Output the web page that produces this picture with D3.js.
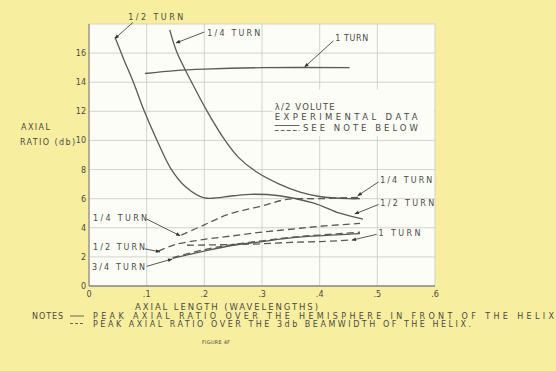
<!DOCTYPE html>
<html>
<head>
<meta charset="utf-8">
<script src="https://cdn.jsdelivr.net/npm/d3@7"></script>
<style>
  body { margin: 0; background: #f8ee9f; }
  text { font-family: "DejaVu Sans", sans-serif; fill: #4a4a44; }
</style>
</head>
<body>
<div id="wrapper"></div>
<script>
// axis ticks
const xTicks = [0, 0.1, 0.2, 0.3, 0.4, 0.5, 0.6];
const xTickLabels = ["0", ".1", ".2", ".3", ".4", ".5", ".6"];
const yTicks = [0, 2, 4, 6, 8, 10, 12, 14, 16];
const yGrid = [0, 2, 4, 6, 8, 10, 12, 14, 16, 18];

// solid = peak axial ratio over hemisphere, dashed = over 3db beamwidth
const halfTurnSolid = [[0.045, 17.1], [0.06, 15.6], [0.077, 14], [0.096, 12], [0.118, 10], [0.143, 8], [0.168, 6.8], [0.2, 6.05], [0.25, 6.2], [0.28, 6.3], [0.33, 6.2], [0.39, 5.7], [0.435, 5.0], [0.475, 4.6]];
const quarterTurnSolid = [[0.14, 17.6], [0.153, 16], [0.178, 14], [0.205, 12], [0.236, 10], [0.26, 8.8], [0.29, 7.85], [0.33, 7.0], [0.366, 6.45], [0.4, 6.15], [0.45, 6.0], [0.47, 6.0]];
const oneTurnSolid = [[0.097, 14.6], [0.15, 14.8], [0.2, 14.9], [0.3, 15.0], [0.452, 15.0]];
const threeQuarterSolid = [[0.145, 1.9], [0.2, 2.4], [0.25, 2.8], [0.3, 3.05], [0.35, 3.3], [0.4, 3.45], [0.47, 3.6]];

const quarterTurnDashed = [[0.16, 3.5], [0.2, 4.2], [0.24, 4.9], [0.3, 5.5], [0.343, 5.95], [0.4, 6.0], [0.47, 6.1]];
const halfTurnDashed = [[0.12, 2.4], [0.15, 2.85], [0.2, 3.2], [0.25, 3.45], [0.3, 3.7], [0.35, 3.9], [0.4, 4.1], [0.47, 4.3]];
const threeQuarterDashed = [[0.145, 1.95], [0.2, 2.5], [0.25, 2.85], [0.3, 3.1], [0.35, 3.35], [0.4, 3.5], [0.47, 3.7]];
const oneTurnDashed = [[0.17, 2.8], [0.25, 2.85], [0.3, 2.9], [0.35, 3.0], [0.4, 3.05], [0.45, 3.15]];

// curve labels: text position and arrow tip, in data units
const curveLabels = [
  {text: "1/2 TURN", tx: 0.068, ty: 18.45, from: [0.076, 18.1], tip: [0.045, 17.0], w: 55},
  {text: "1/4 TURN", tx: 0.205, ty: 17.4, from: [0.2, 17.45], tip: [0.151, 16.7], w: 53},
  {text: "1 TURN", tx: 0.427, ty: 17.05, from: [0.424, 16.85], tip: [0.374, 15.05], w: 33},
  {text: "1/4 TURN", tx: 0.505, ty: 7.3, from: [0.502, 7.15], tip: [0.466, 6.2], w: 52},
  {text: "1/2 TURN", tx: 0.505, ty: 5.7, from: [0.502, 5.6], tip: [0.461, 4.95], w: 54},
  {text: "1 TURN", tx: 0.502, ty: 3.65, from: [0.499, 3.55], tip: [0.456, 3.15], w: 42},
  {text: "1/4 TURN", tx: 0.007, ty: 4.7, from: [0.1, 4.6], tip: [0.158, 3.45], w: 54},
  {text: "1/2 TURN", tx: 0.007, ty: 2.65, from: [0.097, 2.55], tip: [0.123, 2.35], w: 52},
  {text: "3/4 TURN", tx: 0.005, ty: 1.3, from: [0.1, 1.35], tip: [0.144, 1.85], w: 53},
];

const width = 556, height = 371;
const margin = {top: 24, right: 121, bottom: 85, left: 89};

const svg = d3.select("#wrapper").append("svg")
  .attr("width", width)
  .attr("height", height);

svg.append("defs").append("marker")
  .attr("id", "arrow")
  .attr("viewBox", "0 0 10 10")
  .attr("refX", 9).attr("refY", 5)
  .attr("markerWidth", 6).attr("markerHeight", 5)
  .attr("orient", "auto")
  .append("path")
  .attr("d", "M0,1 L10,5 L0,9 z")
  .attr("fill", "#333");

const xScale = d3.scaleLinear().domain([0, 0.6]).range([margin.left, width - margin.right]);
const yScale = d3.scaleLinear().domain([0, 18]).range([height - margin.bottom, margin.top]);

// white graph paper
svg.append("rect")
  .attr("x", xScale(0)).attr("y", yScale(18))
  .attr("width", xScale(0.6) - xScale(0))
  .attr("height", yScale(0) - yScale(18))
  .attr("fill", "#fdfdf8");

const grid = svg.append("g").attr("stroke", "#c9c9c0").attr("stroke-width", 0.8);
grid.selectAll(".v").data(xTicks).join("line")
  .attr("x1", d => xScale(d)).attr("x2", d => xScale(d))
  .attr("y1", yScale(0)).attr("y2", yScale(18));
grid.selectAll(".h").data(yGrid).join("line")
  .attr("x1", xScale(0)).attr("x2", xScale(0.6))
  .attr("y1", d => yScale(d)).attr("y2", d => yScale(d));

// axis lines
svg.append("line")
  .attr("x1", xScale(0)).attr("x2", xScale(0))
  .attr("y1", yScale(0)).attr("y2", yScale(18))
  .attr("stroke", "#8a8a80").attr("stroke-width", 1.2);
svg.append("line")
  .attr("x1", xScale(0)).attr("x2", xScale(0.6))
  .attr("y1", yScale(0)).attr("y2", yScale(0))
  .attr("stroke", "#8a8a80").attr("stroke-width", 1.4);

// tick labels
svg.append("g").selectAll("text").data(yTicks).join("text")
  .attr("x", xScale(0) - 3)
  .attr("y", d => yScale(d) + 3)
  .attr("text-anchor", "end")
  .attr("font-size", 8)
  .text(d => d);

svg.append("g").selectAll("text").data(xTicks).join("text")
  .attr("x", d => xScale(d))
  .attr("y", yScale(0) + 11)
  .attr("text-anchor", "middle")
  .attr("font-size", 8)
  .text((d, i) => xTickLabels[i]);

function label(x, y, str, w, size) {
  svg.append("text")
    .attr("x", x).attr("y", y)
    .attr("font-size", size || 8.5)
    .attr("textLength", w)
    .attr("lengthAdjust", "spacing")
    .text(str);
}

label(21, 130, "AXIAL", 29, 8);
label(20, 145, "RATIO (db)", 55, 8);
label(135, 310, "AXIAL LENGTH (WAVELENGTHS)", 183, 8.5);

// legend box inside the plot
svg.append("rect")
  .attr("x", xScale(0.318)).attr("y", yScale(13.5))
  .attr("width", xScale(0.6) - xScale(0.318) - 1)
  .attr("height", yScale(10.3) - yScale(13.5))
  .attr("fill", "#fdfdf8");
label(xScale(0.322), 110, "\u03BB/2 VOLUTE", 60, 8.5);
label(xScale(0.322), 120, "EXPERIMENTAL DATA", 143, 8.5);
label(xScale(0.371), 131, "SEE NOTE BELOW", 115, 8.5);
svg.append("line").attr("x1", xScale(0.322)).attr("x2", xScale(0.365))
  .attr("y1", 125.5).attr("y2", 125.5).attr("stroke", "#555").attr("stroke-width", 0.9);
svg.append("line").attr("x1", xScale(0.322)).attr("x2", xScale(0.365))
  .attr("y1", 130.5).attr("y2", 130.5).attr("stroke", "#555").attr("stroke-width", 0.9)
  .attr("stroke-dasharray", "4,2");

const lineGenerator = d3.line()
  .x(d => xScale(d[0]))
  .y(d => yScale(d[1]))
  .curve(d3.curveCatmullRom);

const solidSeries = [halfTurnSolid, quarterTurnSolid, oneTurnSolid, threeQuarterSolid];
const dashedSeries = [quarterTurnDashed, halfTurnDashed, threeQuarterDashed, oneTurnDashed];

svg.append("g").selectAll("path").data(solidSeries).join("path")
  .attr("d", lineGenerator)
  .attr("fill", "none")
  .attr("stroke", "#5a5a55")
  .attr("stroke-width", 1.3);

svg.append("g").selectAll("path").data(dashedSeries).join("path")
  .attr("d", lineGenerator)
  .attr("fill", "none")
  .attr("stroke", "#5a5a55")
  .attr("stroke-width", 1.3)
  .attr("stroke-dasharray", "7,4");

// curve labels with leader arrows
const ann = svg.append("g");
ann.selectAll("line").data(curveLabels).join("line")
  .attr("x1", d => xScale(d.from[0])).attr("y1", d => yScale(d.from[1]))
  .attr("x2", d => xScale(d.tip[0])).attr("y2", d => yScale(d.tip[1]))
  .attr("stroke", "#444").attr("stroke-width", 0.9)
  .attr("marker-end", "url(#arrow)");
ann.selectAll("text").data(curveLabels).join("text")
  .attr("x", d => xScale(d.tx))
  .attr("y", d => yScale(d.ty) + 3)
  .attr("font-size", 8)
  .attr("textLength", d => d.w)
  .attr("lengthAdjust", "spacing")
  .text(d => d.text);

// notes
label(32, 319, "NOTES", 31, 8);
svg.append("line").attr("x1", 70).attr("x2", 84).attr("y1", 316).attr("y2", 316)
  .attr("stroke", "#555").attr("stroke-width", 0.9);
svg.append("line").attr("x1", 70).attr("x2", 84).attr("y1", 323.5).attr("y2", 323.5)
  .attr("stroke", "#555").attr("stroke-width", 0.9).attr("stroke-dasharray", "3,2");
label(93, 319, "PEAK AXIAL RATIO OVER THE HEMISPHERE IN FRONT OF THE HELIX", 461, 8);
label(93, 327, "PEAK AXIAL RATIO OVER THE 3db BEAMWIDTH OF THE HELIX.", 378, 8);
label(202, 344, "FIGURE 4F", 28, 5);
</script>
</body>
</html>
